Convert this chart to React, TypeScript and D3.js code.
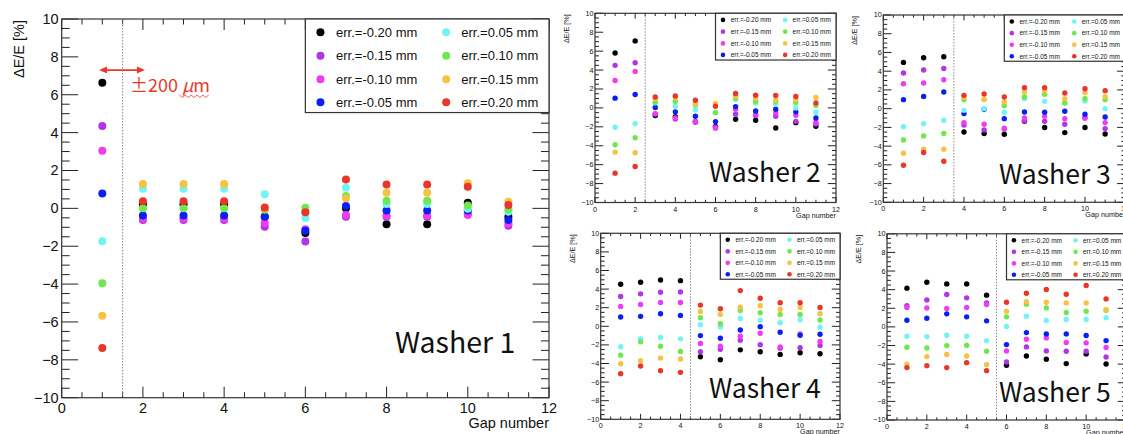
import React from "react";
import * as d3 from "d3";

// ---------- data ----------
const gaps = [1, 2, 3, 4, 5, 6, 7, 8, 9, 10, 11];
const seriesLabels = [
  "err.=-0.20 mm", "err.=-0.15 mm", "err.=-0.10 mm", "err.=-0.05 mm",
  "err.=0.05 mm", "err.=0.10 mm", "err.=0.15 mm", "err.=0.20 mm",
];
const seriesColors = [
  "#000000", "#b035e8", "#f03cf0", "#0a20f2",
  "#72f4f4", "#6fe84e", "#f6c244", "#e8362b",
];
const xTicks = [0, 2, 4, 6, 8, 10, 12];
const yTicks = [-10, -8, -6, -4, -2, 0, 2, 4, 6, 8, 10];
const washerNames = ["Washer 1", "Washer 2", "Washer 3", "Washer 4", "Washer 5"];
const boundaries = [1.5, 2.5, 3.5, 4.5, 5.5];

// each washer: one row per series (order of seriesLabels), values for gaps 1..11
const washer1 = [
  [6.63, 0.22, 0.22, 0.22, -0.45, -1.3, 0.0, -0.84, -0.84, 0.3, -0.44],
  [4.35, -0.62, -0.62, -0.62, -0.97, -1.75, -0.45, -0.44, -0.44, -0.28, -0.92],
  [3.04, -0.53, -0.53, -0.53, -0.78, -1.1, -0.35, -0.38, -0.38, -0.35, -0.79],
  [0.79, -0.38, -0.38, -0.38, -0.44, -1.18, 0.12, -0.12, -0.12, -0.12, -0.61],
  [-1.74, 1.04, 1.04, 1.04, 0.74, -0.51, 1.09, 0.23, 0.23, -0.02, -0.18],
  [-3.95, 0.0, 0.0, 0.0, -0.08, 0.03, 0.65, 0.4, 0.4, 0.15, -0.05],
  [-5.67, 1.28, 1.28, 1.28, 0.0, -0.2, 0.53, 0.82, 0.82, 1.32, 0.35],
  [-7.37, 0.37, 0.37, 0.37, 0.05, -0.2, 1.53, 1.26, 1.26, 1.14, 0.18],
];
const washer2 = [
  [5.81, 7.08, -0.8, -0.92, -1.45, -1.95, -1.2, -1.31, -2.12, -1.56, -1.95],
  [4.5, 4.78, -0.65, -1.17, -1.52, -2.05, -0.67, -0.81, -0.88, -1.42, -1.7],
  [2.9, 3.86, -0.6, -1.06, -1.42, -2.16, -0.14, -0.67, -0.53, -0.78, -1.52],
  [1.03, 1.42, 0.04, -0.42, -0.88, -1.45, 0.14, -0.32, -0.14, -0.42, -1.06],
  [-2.05, -1.66, 0.55, 0.18, -0.2, -0.45, 0.88, 0.5, 0.39, 0.0, -0.46],
  [-3.89, -3.15, 0.6, 0.67, 0.3, -0.5, 1.03, 0.71, 0.67, 0.57, 0.25],
  [-4.67, -4.74, 1.0, 1.1, 0.42, 0.46, 1.24, 1.03, 0.81, 0.88, 1.1],
  [-6.9, -6.19, 1.15, 1.27, 0.81, 0.18, 1.52, 1.35, 1.31, 1.2, 0.53],
];
const washer3 = [
  [4.94, 5.44, 5.54, -2.49, -2.66, -2.74, -1.35, -2.02, -2.56, -2.02, -2.7],
  [3.8, 4.12, 4.3, -1.74, -2.27, -2.17, -1.31, -1.35, -1.67, -0.95, -2.13],
  [2.66, 2.74, 3.09, -1.49, -1.67, -2.1, -0.99, -0.82, -1.07, -1.03, -1.49],
  [0.96, 1.31, 1.78, -0.53, -0.07, -1.07, -0.36, -0.39, -0.28, -0.6, -0.89],
  [-1.92, -1.6, -1.24, -0.18, 0.0, -0.39, 1.07, 0.78, 0.57, 0.82, 0.0],
  [-3.34, -2.91, -2.66, 0.96, 0.99, 0.32, 1.24, 1.53, 0.64, 1.07, 0.96],
  [-4.76, -4.33, -4.33, 1.2, 0.99, 0.71, 1.78, 1.88, 1.07, 1.71, 1.28],
  [-6.04, -4.69, -5.61, 1.42, 1.56, 1.24, 2.24, 2.24, 1.67, 2.13, 1.92],
];
const washer4 = [
  [4.52, 4.73, 4.98, 4.91, -3.27, -3.59, -2.53, -2.74, -3.02, -2.85, -2.95],
  [3.2, 3.49, 3.67, 3.7, -2.74, -2.46, -1.49, -1.99, -2.35, -2.31, -2.06],
  [2.14, 2.35, 2.56, 2.56, -1.85, -2.14, -1.07, -0.75, -2.21, -0.82, -1.64],
  [1.0, 1.07, 1.35, 1.17, -1.0, -1.28, -0.39, -0.04, -0.64, -0.96, -0.85],
  [-2.2, -1.32, -1.21, -1.35, 0.18, -0.07, 0.85, 0.64, 0.39, 0.71, -0.11],
  [-3.1, -1.67, -2.14, -2.7, 0.93, 0.28, 1.71, 1.46, 1.28, 1.28, 0.68],
  [-4.02, -3.7, -3.42, -3.52, 1.6, 1.28, 2.06, 2.21, 1.81, 2.03, 1.35],
  [-5.09, -4.27, -4.77, -4.95, 2.28, 1.89, 3.84, 3.02, 2.53, 2.53, 2.03],
];
const washer5 = [
  [4.16, 4.8, 4.62, 4.62, 3.41, -4.12, -3.12, -3.48, -3.94, -2.9, -3.98],
  [2.29, 2.9, 3.48, 3.12, 2.58, -3.76, -2.15, -2.58, -2.62, -2.62, -3.23],
  [2.08, 2.04, 1.97, 2.08, 2.4, -2.58, -1.33, -1.18, -1.68, -1.72, -2.22],
  [0.72, 0.93, 1.4, 1.08, 0.65, -1.9, -0.61, -0.75, -0.75, -0.93, -1.47],
  [-1.0, -1.04, -0.9, -1.0, -1.47, 0.04, 1.15, 0.68, 0.79, 0.79, 0.97],
  [-2.19, -2.26, -2.01, -1.97, -2.62, 1.08, 2.44, 2.04, 1.54, 1.68, 1.79],
  [-4.01, -3.19, -2.97, -3.12, -4.05, 1.68, 2.72, 2.65, 2.58, 2.58, 1.86],
  [-4.37, -4.16, -4.37, -3.84, -4.7, 2.65, 3.62, 4.01, 3.51, 4.44, 3.01],
];
const washers = [washer1, washer2, washer3, washer4, washer5];

// ---------- layout ----------
const frames = [
  { x0: 61.7, x1: 549, y0: 19, y1: 397.7, s: 1, r: 4, lr: 4, wx: 395, wy: 353, wf: 28.5, tx: 38.2 },
  { x0: 595, x1: 836, y0: 13.3, y1: 202.5, s: 0.497, r: 2.7, lr: 2.3, wx: 709, wy: 182, wf: 26.5, tx: 26 },
  { x0: 883.3, x1: 1125.3, y0: 15, y1: 202.3, s: 0.497, r: 2.7, lr: 2.3, wx: 999, wy: 183.5, wf: 26.5, tx: 26 },
  { x0: 600.7, x1: 840, y0: 233.3, y1: 419.3, s: 0.497, r: 2.7, lr: 2.3, wx: 709, wy: 397.5, wf: 26.5, tx: 26 },
  { x0: 887, x1: 1126, y0: 233.8, y1: 420, s: 0.497, r: 2.7, lr: 2.3, wx: 999, wy: 401.5, wf: 26.5, tx: 26 },
];

const AX_FONT = "'Liberation Sans', Arial, Helvetica, sans-serif";
const TXT_FONT = "'Noto Sans CJK JP', 'Noto Sans', sans-serif";

function Panel({ idx }: { idx: number }) {
  const f = frames[idx];
  const vals = washers[idx];
  const { x0, x1, y0, y1, s } = f;
  const W = x1 - x0;
  const H = y1 - y0;
  const x = d3.scaleLinear().domain([0, 12]).range([x0, x1]);
  const y = d3.scaleLinear().domain([-10, 10]).range([y1, y0]);
  const xMinor = d3.range(0, 12.0001, 0.5).filter((v) => Math.abs(v % 2) > 1e-6);
  const yMinor = d3.range(-10, 10.0001, 0.5).filter((v) => Math.abs(v % 2) > 1e-6);
  const xMaj = 11 * s, xMin = 5.5 * s, yMaj = 16.5 * s, yMin = 8 * s;
  const tickFs = 14.5 * s;
  const legFs = 13 * s;
  const tickColor = "#222";
  const rowsF = [0.035, 0.097, 0.159, 0.22];
  const colMarkF = [0.531, 0.789];
  const colTextF = [0.563, 0.82];
  const fmt = (v: number) => (v < 0 ? "\u2212" + Math.abs(v) : String(v));
  return (
    <g>
      {xTicks.map((t) => (
        <g key={"xt" + t}>
          <line x1={x(t)} x2={x(t)} y1={y1} y2={y1 - xMaj} stroke={tickColor} strokeWidth={1} />
          <line x1={x(t)} x2={x(t)} y1={y0} y2={y0 + xMaj} stroke={tickColor} strokeWidth={1} />
        </g>
      ))}
      {xMinor.map((t) => (
        <g key={"xm" + t}>
          <line x1={x(t)} x2={x(t)} y1={y1} y2={y1 - xMin} stroke={tickColor} strokeWidth={1} />
          <line x1={x(t)} x2={x(t)} y1={y0} y2={y0 + xMin} stroke={tickColor} strokeWidth={1} />
        </g>
      ))}
      {yTicks.map((t) => (
        <g key={"yt" + t}>
          <line x1={x0} x2={x0 + yMaj} y1={y(t)} y2={y(t)} stroke={tickColor} strokeWidth={1} />
          <line x1={x1} x2={x1 - yMaj} y1={y(t)} y2={y(t)} stroke={tickColor} strokeWidth={1} />
        </g>
      ))}
      {yMinor.map((t) => (
        <g key={"ym" + t}>
          <line x1={x0} x2={x0 + yMin} y1={y(t)} y2={y(t)} stroke={tickColor} strokeWidth={1} />
          <line x1={x1} x2={x1 - yMin} y1={y(t)} y2={y(t)} stroke={tickColor} strokeWidth={1} />
        </g>
      ))}
      <line
        x1={x(boundaries[idx])}
        x2={x(boundaries[idx])}
        y1={y0}
        y2={y1}
        stroke="#888"
        strokeWidth={1}
        strokeDasharray="1.5 1.5"
      />
      <rect x={x0} y={y0} width={W} height={H} fill="none" stroke="#333" strokeWidth={1.2} />
      {xTicks.map((t) => (
        <text
          key={"xl" + t}
          x={x(t)}
          y={y1 + 15.6 * s + (s < 1 ? 1.4 : 0)}
          textAnchor="middle"
          fontFamily={AX_FONT}
          fontSize={tickFs}
          fill="#111"
        >
          {fmt(t)}
        </text>
      ))}
      {yTicks.map((t) => (
        <text
          key={"yl" + t}
          x={x0 - 3 * s}
          y={y(t) + 5 * s}
          textAnchor="end"
          fontFamily={AX_FONT}
          fontSize={tickFs}
          fill="#111"
        >
          {fmt(t)}
        </text>
      ))}
      <text
        x={x1}
        y={y1 + 30.4 * s}
        textAnchor="end"
        fontFamily={AX_FONT}
        fontSize={tickFs}
        fill="#111"
      >
        Gap number
      </text>
      <text
        transform={`translate(${x0 - f.tx},${y0 + 1}) rotate(-90)`}
        textAnchor="end"
        fontFamily={AX_FONT}
        fontSize={tickFs}
        fill="#111"
      >
        ΔE/E [%]
      </text>
      {vals.map((row, si) =>
        row.map((v, gi) => (
          <circle
            key={`p${si}-${gi}`}
            cx={x(gaps[gi])}
            cy={y(v)}
            r={f.r}
            fill={seriesColors[si]}
          />
        ))
      )}
      <rect
        x={x0 + 0.5 * W}
        y={y0}
        width={0.5 * W}
        height={0.247 * H}
        fill="#fff"
        stroke="#333"
        strokeWidth={1.2}
      />
      {seriesLabels.map((lab, i) => {
        const col = i < 4 ? 0 : 1;
        const row = i % 4;
        const cy = y0 + rowsF[row] * H;
        return (
          <g key={"lg" + i}>
            <circle cx={x0 + colMarkF[col] * W} cy={cy} r={f.lr} fill={seriesColors[i]} />
            <text
              x={x0 + colTextF[col] * W}
              y={cy + 0.36 * legFs}
              fontFamily={AX_FONT}
              fontSize={legFs}
              fill="#111"
            >
              {lab}
            </text>
          </g>
        );
      })}
      <text x={f.wx} y={f.wy} fontFamily={TXT_FONT} fontSize={f.wf} fill="#111">
        {washerNames[idx]}
      </text>
    </g>
  );
}

function Annotation() {
  const f = frames[0];
  const x = d3.scaleLinear().domain([0, 12]).range([f.x0, f.x1]);
  const y = d3.scaleLinear().domain([-10, 10]).range([f.y1, f.y0]);
  const red = "#e8392b";
  const ay = y(7.3);
  const xa = x(0.92);
  const xb = x(2.05);
  const wx0 = x(2.9);
  const wx1 = x(3.62);
  const wy = y(5.92);
  const n = 10;
  const wave = d3.range(n + 1).map((i) => [wx0 + ((wx1 - wx0) * i) / n, wy + (i % 2 ? 1.2 : -1.2)] as [number, number]);
  return (
    <g>
      <line x1={xa + 6} x2={xb - 6} y1={ay} y2={ay} stroke={red} strokeWidth={1.6} />
      <path d={`M${xa},${ay} L${xa + 8},${ay - 3.5} L${xa + 8},${ay + 3.5} Z`} fill={red} />
      <path d={`M${xb},${ay} L${xb - 8},${ay - 3.5} L${xb - 8},${ay + 3.5} Z`} fill={red} />
      <text x={x(1.68)} y={y(6.12)} fontFamily={TXT_FONT} fontSize={18} fill={red}>
        ±200 <tspan fontStyle="italic">μ</tspan>m
      </text>
      <path d={d3.line()(wave) || ""} fill="none" stroke={red} strokeWidth={0.8} />
    </g>
  );
}

export default function App() {
  return (
    <svg
      width={1123}
      height={434}
      style={{ position: "absolute", left: 0, top: 0, background: "#fff" }}
    >
      <rect x={0} y={0} width={1123} height={434} fill="#fff" />
      {frames.map((_, i) => (
        <Panel key={i} idx={i} />
      ))}
      <Annotation />
    </svg>
  );
}
